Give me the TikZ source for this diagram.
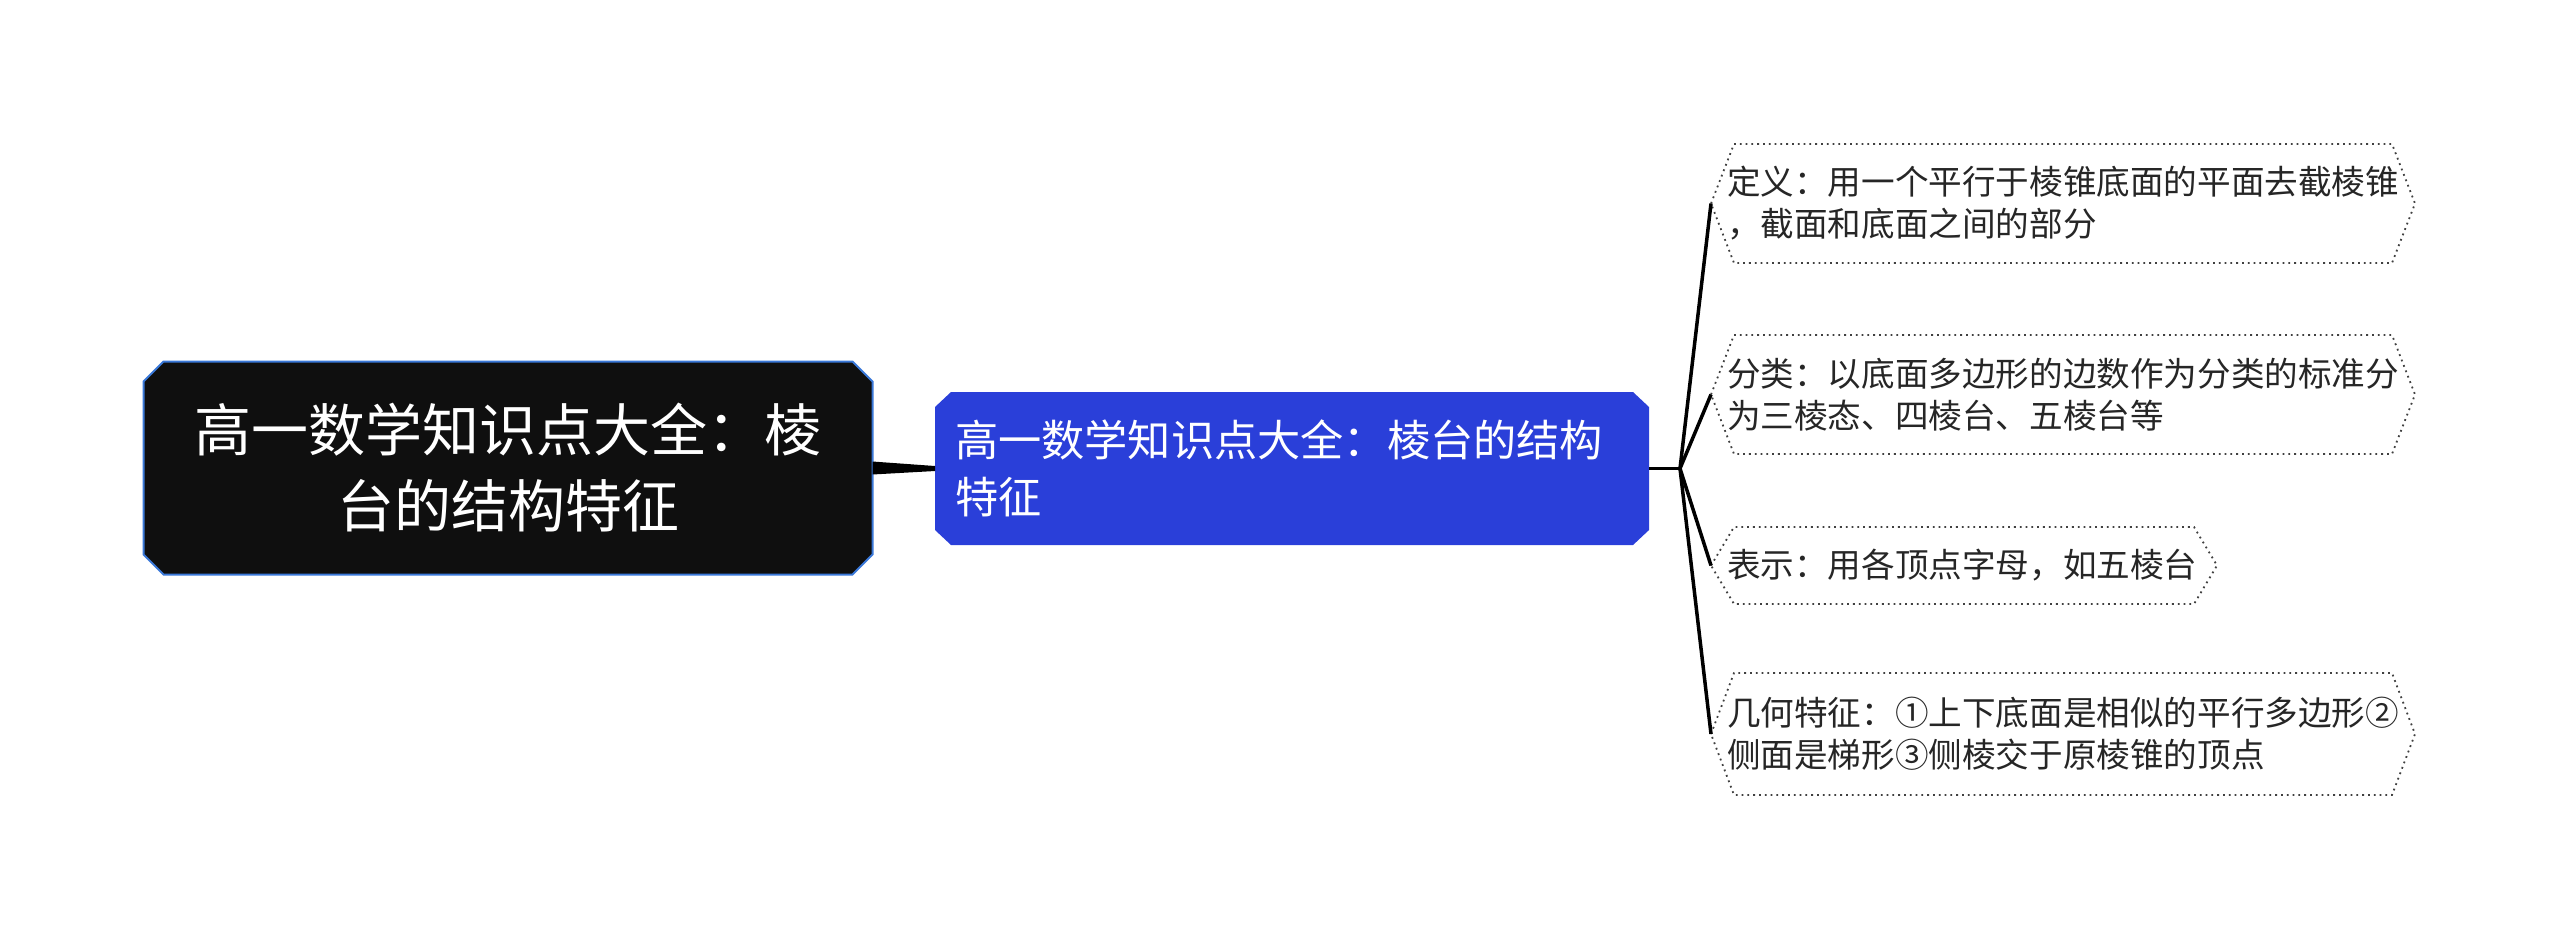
\documentclass[tikz,border=0pt]{standalone}
\usepackage{fontspec}
\newfontfamily\cjk{Noto Sans CJK SC}
\usetikzlibrary{backgrounds}
\definecolor{rootfill}{HTML}{0F0F0F}
\definecolor{rootline}{HTML}{3A78D8}
\definecolor{topicblue}{HTML}{2A3FD9}
\definecolor{leafline}{HTML}{404040}
\begin{document}
\begin{tikzpicture}
[x=1pt, y=1pt, font=\cjk]
\tikzstyle{root}=[rectangle, outer sep=0pt, text=white, align=center, minimum width=364.5pt, minimum height=106.5pt, inner sep=0pt, font={\cjk\fontsize{28.5}{38}\selectfont}]
\tikzstyle{topic}=[rectangle, outer sep=0pt, text=white, align=left, text width=337pt, inner xsep=10pt, inner ysep=0pt, minimum height=76.5pt, font={\cjk\fontsize{21.6}{28.5}\selectfont}]
\tikzstyle{leaf}=[rectangle, outer sep=0pt, anchor=west, align=left, inner xsep=8pt, inner ysep=0pt, text=black!85, font={\cjk\fontsize{16.8}{21}\selectfont}]
\tikzstyle{leafbox}=[draw=leafline, dotted, line width=0.9pt]
\tikzstyle{branch}=[line width=1.75pt, black]
\useasboundingbox (0,0) rectangle (1280,-469.5);

\node[root]	(root)	at (254,-234)	{高一数学知识点大全：棱\\台的结构特征};
\node[topic]	(topic)	at (646,-234.25)	{高一数学知识点大全：棱台的结构\\特征};

\node[leaf, text width=336pt, minimum height=59.5pt]	(def)	at (855.5,-101.75)	{定义：用一个平行于棱锥底面的平面去截棱锥\\，截面和底面之间的部分};
\node[leaf, text width=336pt, minimum height=59.5pt]	(cls)	at (855.5,-197.25)	{分类：以底面多边形的边数作为分类的标准分\\为三棱态、四棱台、五棱台等};
\node[leaf, text width=237pt, minimum height=38.5pt]	(sym)	at (855.5,-282.75)	{表示：用各顶点字母，如五棱台};
\node[leaf, text width=336pt, minimum height=61pt]	(geo)	at (855.5,-367)	{几何特征：①上下底面是相似的平行多边形②\\侧面是梯形③侧棱交于原棱锥的顶点};

% chamfered boxes behind the two big nodes
\begin{scope}[on background layer]
\draw[fill=rootfill, draw=rootline, line width=1pt] ([xshift=10pt]root.north west) -- ([xshift=-10pt]root.north east) -- ([yshift=-10pt]root.north east) -- ([yshift=10pt]root.south east) -- ([xshift=-10pt]root.south east) -- ([xshift=10pt]root.south west) -- ([yshift=10pt]root.south west) -- ([yshift=-10pt]root.north west) -- cycle;
\fill[topicblue] ([xshift=8pt]topic.north west) -- ([xshift=-8pt]topic.north east) -- ([yshift=-7.5pt]topic.north east) -- ([yshift=7.5pt]topic.south east) -- ([xshift=-8pt]topic.south east) -- ([xshift=8pt]topic.south west) -- ([yshift=7.5pt]topic.south west) -- ([yshift=-7.5pt]topic.north west) -- cycle;
\end{scope}

% dotted hexagons round the leaves
\foreach \n in {def,cls,sym,geo}
  \draw[leafbox] (\n.west) -- ([xshift=11.5pt]\n.north west) -- ([xshift=-11.5pt]\n.north east) -- (\n.east) -- ([xshift=-11.5pt]\n.south east) -- ([xshift=11.5pt]\n.south west) -- cycle;

% root to topic, tapered
\fill[black] ([yshift=3.25pt]root.east) -- ([yshift=1.25pt]topic.west) -- ([yshift=-1.25pt]topic.west) -- ([yshift=-3.25pt]root.east) -- cycle;

\coordinate (fork) at ([xshift=15.5pt]topic.east);
\draw[branch] (topic.east) -- (fork);
\foreach \n in {def,cls,sym,geo}
  \draw[branch] (fork) -- (\n.west);
\end{tikzpicture}
\end{document}
